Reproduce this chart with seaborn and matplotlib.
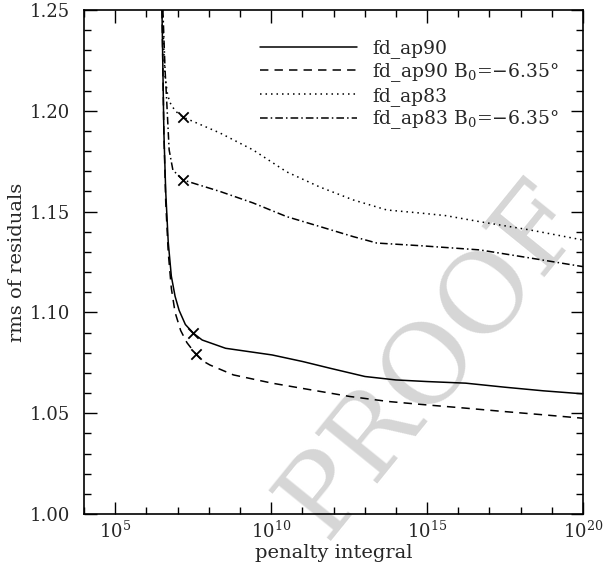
import numpy as np
import pandas as pd
import matplotlib
matplotlib.use("Agg")
import matplotlib.pyplot as plt
import matplotlib.ticker as mticker
import seaborn as sns

# --- data: log10(penalty integral) and rms of residuals for each run ---
labels = ["fd_ap90", "fd_ap90 B$_0$=\u22126.35\u00b0", "fd_ap83", "fd_ap83 B$_0$=\u22126.35\u00b0"]

ap90_logp = [6.50, 6.56, 6.62, 6.70, 6.80, 6.92, 7.05, 7.25, 7.51, 7.79, 8.54, 10.03,
             11.02, 11.89, 13.01, 14.0, 15.0, 16.24, 17.49, 18.73, 20.0]
ap90_rms = [1.25, 1.19, 1.16, 1.135, 1.118, 1.108, 1.101, 1.094, 1.0896, 1.0863, 1.0822,
            1.0789, 1.0756, 1.0723, 1.0682, 1.0665, 1.0657, 1.0649, 1.0629, 1.0611, 1.0596]

ap90b_logp = [6.50, 6.56, 6.62, 6.70, 6.80, 6.92, 7.10, 7.30, 7.58, 7.80, 8.04, 8.79,
              10.03, 11.27, 12.52, 13.76, 15.0, 16.24, 17.49, 18.73, 20.0]
ap90b_rms = [1.25, 1.19, 1.155, 1.13, 1.112, 1.100, 1.091, 1.085, 1.0794, 1.0760, 1.0739,
             1.069, 1.0649, 1.0616, 1.0583, 1.0558, 1.0541, 1.0525, 1.0508, 1.0492, 1.0475]

ap83_logp = [6.52, 6.56, 6.60, 6.68, 6.76, 6.92, 7.17, 8.36, 9.42, 10.50, 11.56, 12.63,
             13.71, 14.77, 15.6, 16.69, 18.3, 20.0]
ap83_rms = [1.25, 1.23, 1.217, 1.208, 1.204, 1.200, 1.1969, 1.189, 1.1806, 1.1697, 1.1622,
            1.1558, 1.1508, 1.1493, 1.148, 1.145, 1.1409, 1.1359]

ap83b_logp = [6.53, 6.60, 6.65, 6.73, 6.85, 7.17, 8.36, 9.42, 10.50, 11.56, 12.63, 13.39,
              14.77, 16.69, 18.3, 20.0]
ap83b_rms = [1.25, 1.22, 1.2054, 1.1806, 1.1706, 1.1657, 1.160, 1.1543, 1.1475, 1.1426,
             1.1376, 1.1344, 1.1331, 1.131, 1.127, 1.1227]

# chosen regularisation points (marked with crosses)
chosen_logp = [7.51, 7.58, 7.17, 7.17]
chosen_rms = [1.0896, 1.0794, 1.1969, 1.1657]

x_major = [1e5, 1e10, 1e15, 1e20]
x_major_labels = [r"$10^{5}$", r"$10^{10}$", r"$10^{15}$", r"$10^{20}$"]
y_major = [1.00, 1.05, 1.10, 1.15, 1.20, 1.25]

# --- build long-form table ---
frames = []
for name, lp, r in zip(labels,
                       [ap90_logp, ap90b_logp, ap83_logp, ap83b_logp],
                       [ap90_rms, ap90b_rms, ap83_rms, ap83b_rms]):
    frames.append(pd.DataFrame({"penalty": 10.0 ** np.array(lp), "rms": r, "run": name}))
df = pd.concat(frames, ignore_index=True)
marks = pd.DataFrame({"penalty": 10.0 ** np.array(chosen_logp), "rms": chosen_rms})

sns.set_style("ticks")
plt.rcParams["font.family"] = ["DejaVu Serif"]
plt.rcParams["mathtext.fontset"] = "dejavuserif"

fig = plt.figure(figsize=(6.1, 5.7), dpi=100)
ax = fig.add_axes([84 / 610, 1 - 514 / 570, (583 - 84) / 610, (514 - 10) / 570])
ax.set_facecolor("none")

# faint watermark behind the plot
fig.text(0.71, 0.37, "PROOF", rotation=51, fontsize=80, color="#d6d6d6",
         ha="center", va="center", rotation_mode="anchor", zorder=-5)

dash_map = {
    labels[0]: "",
    labels[1]: (5.5, 4.0),
    labels[2]: (1.0, 2.6),
    labels[3]: (5.0, 2.0, 1.0, 2.0),
}
sns.lineplot(data=df, x="penalty", y="rms", hue="run", style="run",
             palette=["black"] * 4, dashes=dash_map, sort=False, estimator=None,
             linewidth=1.1, ax=ax, legend=True)
sns.scatterplot(data=marks, x="penalty", y="rms", marker="x", color="black",
                s=55, linewidth=1.3, ax=ax, zorder=5)

ax.set_xscale("log")
ax.set_xlim(1e4, 1e20)
ax.set_ylim(1.0, 1.25)
ax.set_xticks(x_major)
ax.set_xticklabels(x_major_labels)
ax.xaxis.set_minor_locator(mticker.FixedLocator([10.0 ** k for k in range(4, 21)]))
ax.xaxis.set_minor_formatter(mticker.NullFormatter())
ax.set_yticks(y_major)
ax.yaxis.set_major_formatter(mticker.FormatStrFormatter("%.2f"))
ax.yaxis.set_minor_locator(mticker.MultipleLocator(0.01))

ax.tick_params(which="both", direction="in", top=True, right=True, color="black",
               labelsize=13, width=1.0)
ax.tick_params(which="major", length=9)
ax.tick_params(which="minor", length=5)
ax.tick_params(axis="x", which="major", pad=5)
ax.tick_params(axis="y", which="major", pad=10)

for sp in ax.spines.values():
    sp.set_linewidth(1.2)
    sp.set_color("black")
    sp.set_visible(True)

ax.set_xlabel("penalty integral", fontsize=14, labelpad=1)
ax.set_ylabel("rms of residuals", fontsize=14, labelpad=3)

leg = ax.legend(loc="upper right", bbox_to_anchor=(0.978, 0.968), frameon=False,
                fontsize=13.5, handlelength=5.2, handletextpad=0.8, labelspacing=0.15,
                borderaxespad=0.3)
for h in leg.get_lines():
    h.set_linewidth(1.1)

fig.savefig("out.png", dpi=100)
